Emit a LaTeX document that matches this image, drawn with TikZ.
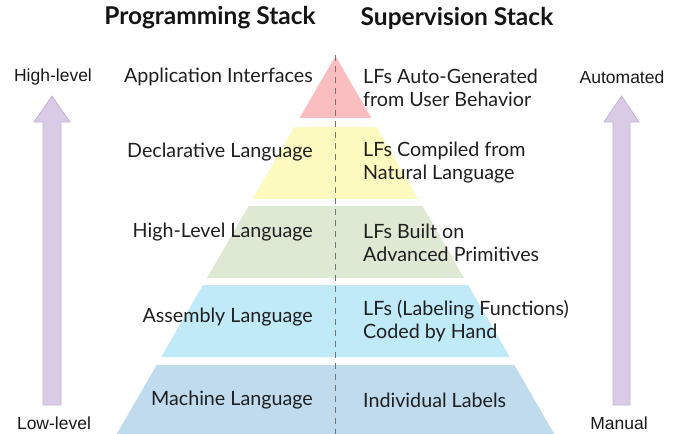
\documentclass[tikz,border=0pt]{standalone}
\usepackage{fontspec}
\setmainfont{Lato}
\newfontfamily\arialfont{Liberation Sans}
\begin{document}
\begin{tikzpicture}[x=1pt,y=-1pt,
  lefttext/.style={anchor=east,font=\fontsize{19.7}{23}\selectfont,text=black!88,inner sep=0pt},
  righttext/.style={anchor=west,align=left,font=\fontsize{19.7}{23}\selectfont,text=black!88,inner sep=0pt},
  title/.style={font=\fontsize{24.5}{28}\selectfont\bfseries,text=black!92,inner sep=0pt},
  sidelabel/.style={font=\arialfont\fontsize{17.5}{20}\selectfont,text=black!90,inner sep=0pt},
  bigarrow/.style={fill=arrowfill,draw=arrowedge,line width=0.8pt,line join=miter}]
\definecolor{redband}{RGB}{250,190,192}
\definecolor{yellowband}{RGB}{253,250,192}
\definecolor{greenband}{RGB}{222,233,212}
\definecolor{cyanband}{RGB}{193,234,249}
\definecolor{blueband}{RGB}{192,219,238}
\definecolor{arrowfill}{RGB}{217,202,230}
\definecolor{arrowedge}{RGB}{196,180,218}
\useasboundingbox (0,0) rectangle (678,434);
\fill[white] (0,0) rectangle (678,434);

% pyramid bands: half width grows by 0.579 per unit below the apex (335.5,56)
\fill[redband]    (335.5,56) -- (371.4,118) -- (299.6,118) -- cycle;
\fill[yellowband] (294.4,127) -- (376.6,127) -- (418.3,199) -- (252.7,199) -- cycle;
\fill[greenband]  (248.6,206) -- (422.4,206) -- (464.0,278) -- (207.0,278) -- cycle;
\fill[cyanband]   (202.9,285) -- (468.1,285) -- (509.8,357) -- (161.2,357) -- cycle;
\fill[blueband]   (156.6,365) -- (514.4,365) -- (555.4,436) -- (115.6,436) -- cycle;

% centre divider
\coordinate (divtop) at (335.5,55);
\coordinate (divbot) at (335.5,434);
\draw[gray!90!black,line width=1.4pt,dash pattern=on 6pt off 5pt] (divtop) -- (divbot);

% column titles
\node[title] (progtitle) at (210,18) {Programming Stack};
\node[title] (suptitle) at (457,18) {Supervision Stack};

% programming stack levels
\node[lefttext] (app)  at (313,77)  {Application Interfaces};
\node[lefttext] (decl) at (313,152) {Declarative Language};
\node[lefttext] (hll)  at (313,232) {High-Level Language};
\node[lefttext] (asm)  at (313,317) {Assembly Language};
\node[lefttext] (mach) at (313,400) {Machine Language};

% supervision stack levels
\node[righttext] (auto)  at (363,88)  {LFs Auto-Generated\\from User Behavior};
\node[righttext] (nl)    at (363,163) {LFs Compiled from\\Natural Language};
\node[righttext] (prim)  at (363,243) {LFs Built on\\Advanced Primitives};
\node[righttext] (hand)  at (363,321.5) {LFs (Labeling Functions)\\Coded by Hand};
\node[righttext] (indiv) at (363,400) {Individual Labels};

% side arrows
\draw[bigarrow] (43,405) -- (43,122) -- (34,122) -- (52,96) -- (70,122) -- (61,122) -- (61,405) -- cycle;
\draw[bigarrow] (613,405) -- (613,122) -- (604,122) -- (621.5,96) -- (639,122) -- (630,122) -- (630,405) -- cycle;
\node[sidelabel] (high) at (53,77)  {High-level};
\node[sidelabel] (low)  at (54,423) {Low-level};
\node[sidelabel] (automated) at (622,77)  {Automated};
\node[sidelabel] (manual)    at (619,423) {Manual};
\end{tikzpicture}
\end{document}
